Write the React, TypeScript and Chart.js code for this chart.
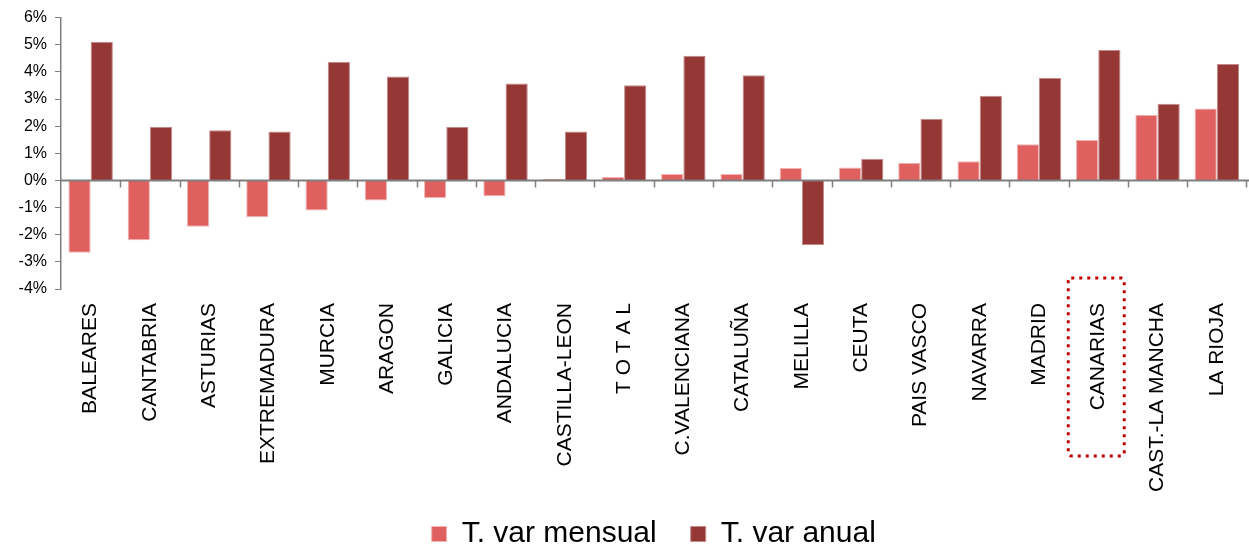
import React, { useEffect, useRef } from "react";
import { Chart, registerables } from "chart.js";

Chart.register(...registerables);

const categories = [
  "BALEARES", "CANTABRIA", "ASTURIAS", "EXTREMADURA", "MURCIA", "ARAGON",
  "GALICIA", "ANDALUCIA", "CASTILLA-LEON", "T O T A L", "C.VALENCIANA",
  "CATALUÑA", "MELILLA", "CEUTA", "PAIS VASCO", "NAVARRA", "MADRID",
  "CANARIAS", "CAST.-LA MANCHA", "LA RIOJA",
];

const mensual = [
  -2.66, -2.2, -1.71, -1.36, -1.11, -0.74, -0.65, -0.58, 0.05, 0.13, 0.24,
  0.24, 0.46, 0.48, 0.65, 0.71, 1.33, 1.49, 2.42, 2.65,
];

const anual = [
  5.11, 1.97, 1.85, 1.8, 4.36, 3.83, 1.97, 3.57, 1.8, 3.51, 4.59, 3.88,
  -2.38, 0.8, 2.26, 3.12, 3.77, 4.81, 2.83, 4.29,
];

const seriesNames = ["T. var mensual", "T. var anual"];
const highlighted = "CANARIAS";

const FONT = "'Liberation Sans', Arial, sans-serif";

const overlayPlugin = {
  id: "overlay",
  afterLayout(chart: any) {
    // let long rotated category labels extend below the axis box (no clipping)
    const x = chart.scales.x;
    if (x) x.bottom = chart.height;
  },
  afterDatasetsDraw(chart: any) {
    const { ctx, chartArea, scales } = chart;
    const y = scales.y;
    const y0 = y.getPixelForValue(0);
    ctx.save();
    ctx.strokeStyle = "#7f7f7f";
    ctx.lineWidth = 2;
    ctx.beginPath();
    ctx.moveTo(chartArea.left, y0);
    ctx.lineTo(chartArea.right + 10, y0);
    ctx.stroke();
    ctx.lineWidth = 1.5;
    const n = categories.length;
    const w = (chartArea.right - chartArea.left) / n;
    for (let i = 1; i <= n; i++) {
      const px = Math.round(chartArea.left + i * w) + 0.5;
      ctx.beginPath();
      ctx.moveTo(px, y0);
      ctx.lineTo(px, y0 + 7);
      ctx.stroke();
    }
    ctx.restore();
  },
  afterDraw(chart: any) {
    const { ctx, chartArea, scales } = chart;
    const idx = categories.indexOf(highlighted);
    if (idx < 0) return;
    const cx = scales.x.getPixelForValue(idx) - 2;
    const left = cx - 28;
    const right = cx + 28;
    const top = chartArea.bottom - 11;
    const bottom = chartArea.bottom + 167;
    ctx.save();
    ctx.strokeStyle = "#C00000";
    ctx.lineWidth = 3;
    ctx.setLineDash([3, 5]);
    ctx.beginPath();
    const r = 3;
    ctx.moveTo(left + r, top);
    ctx.lineTo(right - r, top);
    ctx.quadraticCurveTo(right, top, right, top + r);
    ctx.lineTo(right, bottom - r);
    ctx.quadraticCurveTo(right, bottom, right - r, bottom);
    ctx.lineTo(left + r, bottom);
    ctx.quadraticCurveTo(left, bottom, left, bottom - r);
    ctx.lineTo(left, top + r);
    ctx.quadraticCurveTo(left, top, left + r, top);
    ctx.stroke();
    ctx.restore();
  },
};

export default function App() {
  const ref = useRef<HTMLCanvasElement | null>(null);

  useEffect(() => {
    document.body.style.margin = "0";
    const canvas = ref.current;
    if (!canvas) return;
    const chart = new Chart(canvas, {
      type: "bar",
      data: {
        labels: categories,
        datasets: [
          {
            label: seriesNames[0],
            data: mensual,
            backgroundColor: "#E06060",
            borderColor: "#F0B4B4",
            borderWidth: 1,
            categoryPercentage: 0.75,
            barPercentage: 1,
          },
          {
            label: seriesNames[1],
            data: anual,
            backgroundColor: "#953735",
            borderColor: "#C48A8A",
            borderWidth: 1,
            categoryPercentage: 0.75,
            barPercentage: 1,
          },
        ],
      },
      options: {
        responsive: false,
        animation: false,
        layout: { padding: { top: 17, right: 0, left: 0, bottom: 0 } },
        plugins: {
          tooltip: { enabled: false },
          legend: {
            position: "bottom",
            fullSize: false,
            labels: {
              boxWidth: 15,
              boxHeight: 15,
              padding: 34,
              color: "#000",
              font: { size: 30, family: FONT },
            },
          },
        },
        scales: {
          x: {
            grid: { display: false, drawTicks: false },
            border: { display: false },
            ticks: {
              color: "#000",
              font: { size: 21, family: FONT },
              maxRotation: 90,
              minRotation: 90,
              autoSkip: false,
              padding: 14,
            },
            afterFit(scale: any) {
              scale.height = 196;
            },
          },
          y: {
            min: -4,
            max: 6,
            grid: {
              drawOnChartArea: false,
              drawTicks: true,
              tickLength: 6,
              color: "#7f7f7f",
            },
            border: { display: true, color: "#7f7f7f", width: 1.5 },
            ticks: {
              stepSize: 1,
              color: "#000",
              padding: 8,
              font: { size: 16, family: FONT },
              callback: (v: any) => `${v}%`,
            },
            afterFit(scale: any) {
              scale.width = 61;
            },
          },
        },
      },
      plugins: [overlayPlugin],
    });
    return () => chart.destroy();
  }, []);

  return (
    <div style={{ width: 1249, height: 547, overflow: "hidden", position: "relative" }}>
      <canvas ref={ref} width={1256} height={559} style={{ display: "block" }} />
    </div>
  );
}
